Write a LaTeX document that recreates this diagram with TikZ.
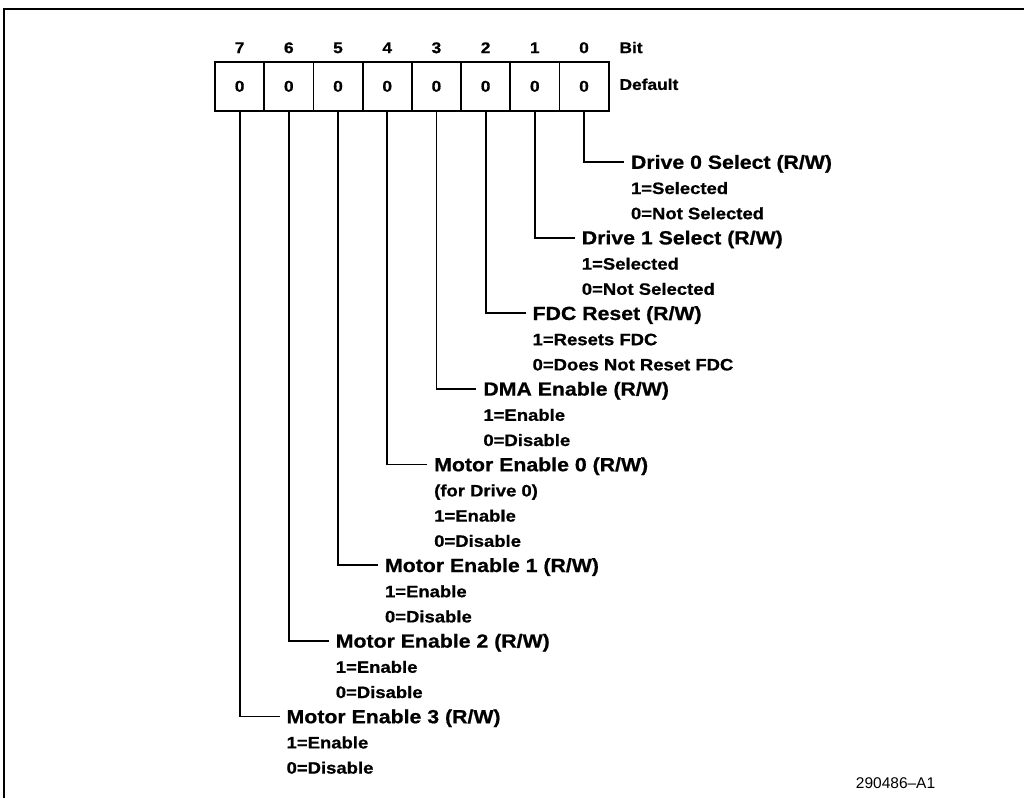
\documentclass[tikz,border=0pt]{standalone}
\usepackage{fontspec}
\setmainfont{Liberation Sans}
\newfontfamily\regfont{Liberation Sans Bold}[FakeStretch=1.12,FakeBold=0.8]
\usetikzlibrary{positioning}

\begin{document}
\begin{tikzpicture}[
	x=1pt, y=-1pt,
	line width=1.8pt,
	cell/.style={
		draw,
		minimum width=49.2pt,
		minimum height=49pt,
		inner sep=0pt,
		outer sep=0pt,
		font=\regfont\fontsize{15.5}{18}\selectfont
	},
	bitnum/.style={
		inner sep=0pt,
		text height=11.2pt,
		text depth=0pt,
		font=\regfont\fontsize{15.5}{18}\selectfont
	},
	field/.style={
		anchor=west,
		inner xsep=7pt,
		inner ysep=0pt,
		outer sep=0pt,
		text height=13.6pt,
		text depth=0pt,
		xshift=40pt,
		font=\regfont\fontsize{19}{23}\selectfont
	},
	detail/.style={
		anchor=base west,
		inner xsep=7pt,
		inner ysep=0pt,
		outer sep=0pt,
		yshift=-25.2pt,
		font=\regfont\fontsize{16.5}{20}\selectfont
	}
	]
	
	\useasboundingbox (0,0) rectangle (1024,798);
	
	% frame
	\draw[line width=2pt] (4,798) -- (4,8.5) -- (1024,8.5);
	
	% register cells
	\node[cell] (c7) at (239.6,86.3) {0};
	\node[cell] (c6) [right=0pt of c7] {0};
	\node[cell] (c5) [right=0pt of c6] {0};
	\node[cell] (c4) [right=0pt of c5] {0};
	\node[cell] (c3) [right=0pt of c4] {0};
	\node[cell] (c2) [right=0pt of c3] {0};
	\node[cell] (c1) [right=0pt of c2] {0};
	\node[cell] (c0) [right=0pt of c1] {0};
	
	% bit numbers
	\node[bitnum] (n7) [above=7.8pt of c7] {7};
	\node[bitnum] (n6) [above=7.8pt of c6] {6};
	\node[bitnum] (n5) [above=7.8pt of c5] {5};
	\node[bitnum] (n4) [above=7.8pt of c4] {4};
	\node[bitnum] (n3) [above=7.8pt of c3] {3};
	\node[bitnum] (n2) [above=7.8pt of c2] {2};
	\node[bitnum] (n1) [above=7.8pt of c1] {1};
	\node[bitnum] (n0) [above=7.8pt of c0] {0};
	
	\node[bitnum,anchor=west,xshift=10pt] (bitlbl) at (c0.east |- n0) {Bit};
	\node[bitnum,anchor=west,xshift=10pt,yshift=2pt] (deflbl) at (c0.east) {Default};
	
	% fields
	\node[field] (t0) at (c0 |- 0,162) {Drive 0 Select (R/W)};
	\node[detail] (t0a) at (t0.base west) {1=Selected};
	\node[detail] (t0b) at (t0a.base west) {0=Not Selected};
	
	\node[field] (t1) at (c1 |- 0,237.6) {Drive 1 Select (R/W)};
	\node[detail] (t1a) at (t1.base west) {1=Selected};
	\node[detail] (t1b) at (t1a.base west) {0=Not Selected};
	
	\node[field] (t2) at (c2 |- 0,313.2) {FDC Reset (R/W)};
	\node[detail] (t2a) at (t2.base west) {1=Resets FDC};
	\node[detail] (t2b) at (t2a.base west) {0=Does Not Reset FDC};
	
	\node[field] (t3) at (c3 |- 0,388.8) {DMA Enable (R/W)};
	\node[detail] (t3a) at (t3.base west) {1=Enable};
	\node[detail] (t3b) at (t3a.base west) {0=Disable};
	
	\node[field] (t4) at (c4 |- 0,464.4) {Motor Enable 0 (R/W)};
	\node[detail] (t4a) at (t4.base west) {(for Drive 0)};
	\node[detail] (t4b) at (t4a.base west) {1=Enable};
	\node[detail] (t4c) at (t4b.base west) {0=Disable};
	
	\node[field] (t5) at (c5 |- 0,565.2) {Motor Enable 1 (R/W)};
	\node[detail] (t5a) at (t5.base west) {1=Enable};
	\node[detail] (t5b) at (t5a.base west) {0=Disable};
	
	\node[field] (t6) at (c6 |- 0,640.8) {Motor Enable 2 (R/W)};
	\node[detail] (t6a) at (t6.base west) {1=Enable};
	\node[detail] (t6b) at (t6a.base west) {0=Disable};
	
	\node[field] (t7) at (c7 |- 0,716.4) {Motor Enable 3 (R/W)};
	\node[detail] (t7a) at (t7.base west) {1=Enable};
	\node[detail] (t7b) at (t7a.base west) {0=Disable};
	
	% leaders
	\draw (c0.south) |- (t0.west);
	\draw (c1.south) |- (t1.west);
	\draw (c2.south) |- (t2.west);
	\draw (c3.south) |- (t3.west);
	\draw (c4.south) |- (t4.west);
	\draw (c5.south) |- (t5.west);
	\draw (c6.south) |- (t6.west);
	\draw (c7.south) |- (t7.west);
	
	\node[inner sep=0pt,anchor=west,font=\fontsize{15.5}{18}\selectfont] (figid) at (855,783) {290486\textendash A1};
	
\end{tikzpicture}
\end{document}
